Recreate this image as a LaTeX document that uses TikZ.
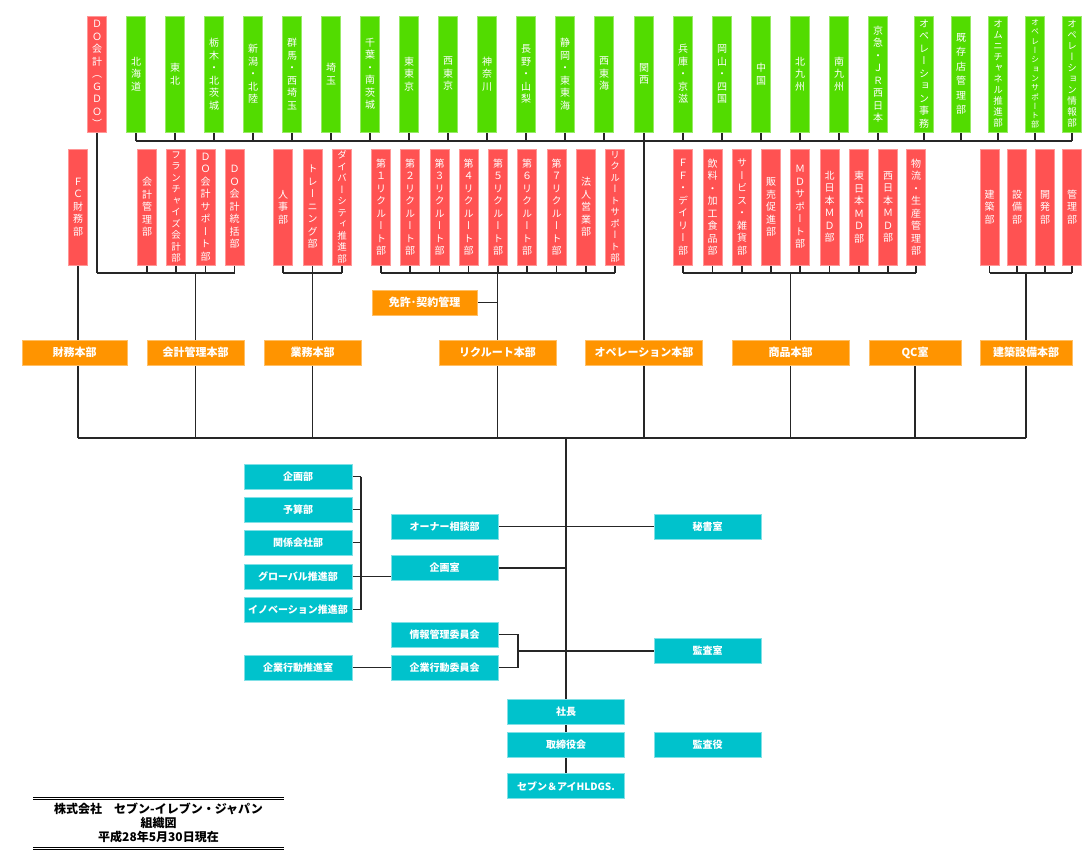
\documentclass[tikz,border=0pt]{standalone}
\usepackage{fontspec}
\setmainfont{Noto Sans CJK JP}
\newfontfamily\vfont{Noto Sans CJK JP}[RawFeature=+vert]
\usetikzlibrary{backgrounds}
\definecolor{areagreen}{RGB}{82,220,0}
\definecolor{deptred}{RGB}{255,82,82}
\definecolor{hqorange}{RGB}{255,148,0}
\definecolor{officecyan}{RGB}{0,194,204}

% vertical label, one character per line
\newcommand\vlab[2][12.5pt]{\vbox{\baselineskip=#1\relax\lineskiplimit=-20pt\relax\vlabloop#2\relax}}
\def\vlabloop#1{\ifx\relax#1\else\hbox to 1em{\hss#1\hss}\expandafter\vlabloop\fi}

\tikzset{
  area/.style={draw=areagreen!60!white, fill=areagreen, text=white, minimum width=19pt, minimum height=116pt, inner sep=0pt, font=\vfont\fontsize{10}{12}\selectfont},
  dept/.style={area, draw=deptred!60!white, fill=deptred},
  hq/.style={draw=hqorange!60!white, fill=hqorange, text=white, minimum height=25pt, inner sep=0pt, font=\bfseries\fontsize{11}{13}\selectfont},
  office/.style={draw=officecyan!50!white, fill=officecyan, text=white, minimum height=25pt, inner sep=0pt, font=\bfseries\fontsize{10}{12}\selectfont},
  link/.style={draw=black!85, line width=1.1pt},
}

\begin{document}
\begin{tikzpicture}[x=1pt, y=-1pt]
  \useasboundingbox (0,0) rectangle (1085,863);
  \coordinate (areabus) at (0,141);
  \coordinate (deptbus) at (0,273);
  \coordinate (hqbus) at (0,438);
  \coordinate (leftbrace) at (361,0);
  \coordinate (rightbrace) at (518,0);

  % regional offices
  \node[dept] (dokaikei) at (97,74) {\vlab{ＤＯ会計（ＧＤＯ）}};
  \node[area] (hokkaido) at (136,74) {\vlab{北海道}};
  \node[area] (tohoku) at (175,74) {\vlab{東北}};
  \node[area] (tochigi) at (214,74) {\vlab{栃木・北茨城}};
  \node[area] (niigata) at (253,74) {\vlab{新潟・北陸}};
  \node[area] (gunma) at (292,74) {\vlab{群馬・西埼玉}};
  \node[area] (saitama) at (331,74) {\vlab{埼玉}};
  \node[area] (chiba) at (370,74) {\vlab{千葉・南茨城}};
  \node[area] (higashitokyo) at (409,74) {\vlab{東東京}};
  \node[area] (nishitokyo) at (448,74) {\vlab{西東京}};
  \node[area] (kanagawa) at (487,74) {\vlab{神奈川}};
  \node[area] (nagano) at (526,74) {\vlab{長野・山梨}};
  \node[area] (shizuoka) at (565,74) {\vlab{静岡・東東海}};
  \node[area] (nishitokai) at (604,74) {\vlab{西東海}};
  \node[area] (kansai) at (644,74) {\vlab{関西}};
  \node[area] (hyogo) at (683,74) {\vlab{兵庫・京滋}};
  \node[area] (okayama) at (722,74) {\vlab{岡山・四国}};
  \node[area] (chugoku) at (761,74) {\vlab{中国}};
  \node[area] (kitakyushu) at (800,74) {\vlab{北九州}};
  \node[area] (minamikyushu) at (839,74) {\vlab{南九州}};
  \node[area] (keikyu) at (878,74) {\vlab{京急・ＪＲ西日本}};
  \node[area] (opejimu) at (924,74) {\vlab{オペレーション事務}};
  \node[area] (kizonten) at (961,74) {\vlab[14.5pt]{既存店管理部}};
  \node[area, font=\vfont\fontsize{9.5}{11}\selectfont] (omni) at (998,74) {\vlab[11pt]{オムニチャネル推進部}};
  \node[area, font=\vfont\fontsize{8}{9}\selectfont] (opesupport) at (1035,74) {\vlab[9.3pt]{オペレーションサポート部}};
  \node[area, font=\vfont\fontsize{9.5}{11}\selectfont] (opejoho) at (1072,74) {\vlab[11pt]{オペレーション情報部}};

  % departments
  \node[dept] (fczaimu) at (78,207) {\vlab{ＦＣ財務部}};
  \node[dept] (kaikeikanri) at (147,207) {\vlab{会計管理部}};
  \node[dept, font=\vfont\fontsize{9.5}{11}\selectfont] (fckaikei) at (176,207) {\vlab[11.5pt]{フランチャイズ会計部}};
  \node[dept] (dosupport) at (205.5,207) {\vlab{ＤＯ会計サポート部}};
  \node[dept] (dotokatsu) at (234.5,207) {\vlab{ＤＯ会計統括部}};
  \node[dept] (jinji) at (283,207) {\vlab{人事部}};
  \node[dept] (training) at (312.5,207) {\vlab{トレーニング部}};
  \node[dept, font=\vfont\fontsize{9.5}{11}\selectfont] (diversity) at (342,207) {\vlab[11.5pt]{ダイバーシティ推進部}};
  \node[dept] (recruit1) at (381,207) {\vlab{第１リクルート部}};
  \node[dept] (recruit2) at (410,207) {\vlab{第２リクルート部}};
  \node[dept] (recruit3) at (439.5,207) {\vlab{第３リクルート部}};
  \node[dept] (recruit4) at (468.5,207) {\vlab{第４リクルート部}};
  \node[dept] (recruit5) at (498,207) {\vlab{第５リクルート部}};
  \node[dept] (recruit6) at (527,207) {\vlab{第６リクルート部}};
  \node[dept] (recruit7) at (556.5,207) {\vlab{第７リクルート部}};
  \node[dept] (houjin) at (586,207) {\vlab{法人営業部}};
  \node[dept, font=\vfont\fontsize{9.5}{11}\selectfont] (recsupport) at (615,207) {\vlab[11.5pt]{リクルートサポート部}};
  \node[dept] (ffdaily) at (683,207) {\vlab{ＦＦ・デイリー部}};
  \node[dept] (inryo) at (712.5,207) {\vlab{飲料・加工食品部}};
  \node[dept] (service) at (742,207) {\vlab{サービス・雑貨部}};
  \node[dept] (hansoku) at (771,207) {\vlab{販売促進部}};
  \node[dept] (mdsupport) at (800,207) {\vlab{ＭＤサポート部}};
  \node[dept] (kitanihon) at (829.5,207) {\vlab{北日本ＭＤ部}};
  \node[dept] (higashinihon) at (859,207) {\vlab{東日本ＭＤ部}};
  \node[dept] (nishinihon) at (888,207) {\vlab{西日本ＭＤ部}};
  \node[dept] (butsuryu) at (916,207) {\vlab{物流・生産管理部}};
  \node[dept] (kenchiku) at (989.5,207) {\vlab{建築部}};
  \node[dept] (setsubi) at (1017,207) {\vlab{設備部}};
  \node[dept] (kaihatsu) at (1045,207) {\vlab{開発部}};
  \node[dept] (kanri) at (1072,207) {\vlab{管理部}};

  % headquarters
  \node[hq, minimum width=105pt] (menkyo) at (424.5,302.5) {免許･契約管理};
  \node[hq, minimum width=105pt] (zaimuhonbu) at (74.5,352.5) {財務本部};
  \node[hq, minimum width=97pt] (kaikeihonbu) at (195.5,352.5) {会計管理本部};
  \node[hq, minimum width=97pt] (gyomuhonbu) at (312.5,352.5) {業務本部};
  \node[hq, minimum width=117pt] (recruithonbu) at (497.5,352.5) {リクルート本部};
  \node[hq, minimum width=117pt] (operationhonbu) at (644,352.5) {オペレーション本部};
  \node[hq, minimum width=117pt] (shohinhonbu) at (790.5,352.5) {商品本部};
  \node[hq, minimum width=92pt] (qc) at (915,352.5) {QC室};
  \node[hq, minimum width=92pt] (kenchikuhonbu) at (1026,352.5) {建築設備本部};

  % head office
  \node[office, minimum width=108pt] (kikakubu) at (298,476.5) {企画部};
  \node[office, minimum width=108pt] (yosan) at (298,509.5) {予算部};
  \node[office, minimum width=108pt] (kankei) at (298,542.5) {関係会社部};
  \node[office, minimum width=108pt] (global) at (298,576.5) {グローバル推進部};
  \node[office, minimum width=108pt] (innovation) at (298,609.5) {イノベーション推進部};
  \node[office, minimum width=108pt] (kodosuishin) at (298,667.5) {企業行動推進室};
  \node[office, minimum width=107pt] (owner) at (444.5,526.5) {オーナー相談部};
  \node[office, minimum width=107pt] (kikakushitsu) at (444.5,568) {企画室};
  \node[office, minimum width=107pt] (johokanri) at (444.5,634.5) {情報管理委員会};
  \node[office, minimum width=107pt] (kigyokodo) at (444.5,667.5) {企業行動委員会};
  \node[office, minimum width=107pt] (hisho) at (707.5,526.5) {秘書室};
  \node[office, minimum width=107pt] (kansa) at (707.5,651) {監査室};
  \node[office, minimum width=107pt] (kansayaku) at (707.5,744.5) {監査役};
  \node[office, minimum width=117pt] (shacho) at (566,711.5) {社長};
  \node[office, minimum width=117pt] (torishimari) at (566,744.5) {取締役会};
  \node[office, minimum width=117pt] (seven) at (566,786) {セブン＆アイHLDGS.};

  \begin{scope}[on background layer]
    \foreach \n in {hokkaido,tohoku,tochigi,niigata,gunma,saitama,chiba,higashitokyo,nishitokyo,kanagawa,nagano,shizuoka,nishitokai,hyogo,okayama,chugoku,kitakyushu,minamikyushu,keikyu,opejimu,kizonten,omni,opesupport,opejoho}
      \draw[link] (\n.south) -- (\n.south |- areabus);
    \draw[link] (hokkaido.south |- areabus) -- (opejoho.south |- areabus);
    \draw[link] (kansai.south) -- (kansai.south |- hqbus);
    \draw[link] (dokaikei.south) -- (dokaikei.south |- deptbus);
    \foreach \n in {kaikeikanri,fckaikei,dosupport,dotokatsu,jinji,training,diversity,recruit1,recruit2,recruit3,recruit4,recruit5,recruit6,recruit7,houjin,recsupport,ffdaily,inryo,service,hansoku,mdsupport,kitanihon,higashinihon,nishinihon,butsuryu,kenchiku,setsubi,kaihatsu,kanri}
      \draw[link] (\n.south) -- (\n.south |- deptbus);
    \draw[link] (dokaikei.south |- deptbus) -- (dotokatsu.south |- deptbus);
    \draw[link] (jinji.south |- deptbus) -- (diversity.south |- deptbus);
    \draw[link] (recruit1.south |- deptbus) -- (recsupport.south |- deptbus);
    \draw[link] (ffdaily.south |- deptbus) -- (butsuryu.south |- deptbus);
    \draw[link] (kenchiku.south |- deptbus) -- (kanri.south |- deptbus);
    \draw[link] (fczaimu.south) -- (fczaimu.south |- hqbus);
    \draw[link] (kaikeihonbu.north |- deptbus) -- (kaikeihonbu.north);
    \draw[link] (training.south) -- (gyomuhonbu.north);
    \draw[link] (recruithonbu.north |- deptbus) -- (recruithonbu.north);
    \draw[link] (menkyo.east) -- (menkyo.east -| recruithonbu.north);
    \draw[link] (shohinhonbu.north |- deptbus) -- (shohinhonbu.north);
    \draw[link] (kenchikuhonbu.north |- deptbus) -- (kenchikuhonbu.north);
    \foreach \n in {kaikeihonbu,gyomuhonbu,recruithonbu,shohinhonbu,qc,kenchikuhonbu}
      \draw[link] (\n.south) -- (\n.south |- hqbus);
    \draw[link] (fczaimu.south |- hqbus) -- (kenchikuhonbu.south |- hqbus);
    \draw[link] (shacho.north |- hqbus) -- (shacho.north);
    \draw[link] (shacho.south) -- (torishimari.north);
    \draw[link] (torishimari.south) -- (seven.north);
    \foreach \n in {kikakubu,yosan,kankei,global,innovation}
      \draw[link] (\n.east) -- (\n.east -| leftbrace);
    \draw[link] (kikakubu.east -| leftbrace) -- (innovation.east -| leftbrace);
    \draw[link] (global.east) -- (global.east -| kikakushitsu.west);
    \draw[link] (kikakushitsu.east) -- (kikakushitsu.east -| shacho.north);
    \draw[link] (owner.east) -- (hisho.west);
    \draw[link] (johokanri.east) -- (johokanri.east -| rightbrace) -- (kigyokodo.east -| rightbrace) -- (kigyokodo.east);
    \draw[link] (kansa.west -| rightbrace) -- (kansa.west);
    \draw[link] (kodosuishin.east) -- (kigyokodo.west);
  \end{scope}

  % title block
  \draw[line width=0.8pt] (33,797) -- (284,797) (33,799.5) -- (284,799.5);
  \draw[line width=0.8pt] (33,847) -- (284,847) (33,849.5) -- (284,849.5);
  \node[font=\bfseries\fontsize{12}{14}\selectfont, align=center] (title) at (158.5,823) {株式会社　セブン-イレブン・ジャパン\\組織図\\平成28年5月30日現在};
\end{tikzpicture}
\end{document}
